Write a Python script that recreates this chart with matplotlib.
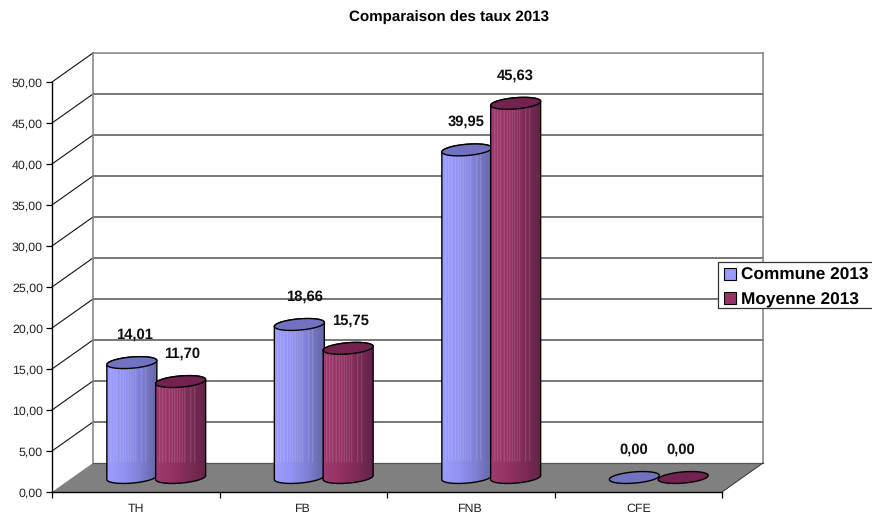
import numpy as np
import matplotlib
matplotlib.use("Agg")
import matplotlib.pyplot as plt
from matplotlib.colors import LinearSegmentedColormap
from matplotlib.patches import Polygon, Patch, Rectangle

plt.rcParams["font.family"] = ["Liberation Sans", "DejaVu Sans"]
plt.rcParams["text.hinting"] = "no_hinting"

categories = ["TH", "FB", "FNB", "CFE"]
commune_2013 = [14.01, 18.66, 39.95, 0.00]
moyenne_2013 = [11.70, 15.75, 45.63, 0.00]
series_names = ["Commune 2013", "Moyenne 2013"]
y_ticks = [0, 5, 10, 15, 20, 25, 30, 35, 40, 45, 50]
title = "Comparaison des taux 2013"

W, H = 872, 512
fig = plt.figure(figsize=(W / 100, H / 100), dpi=100)
ax = fig.add_axes([52 / W, (H - 492) / H, 670 / W, 410 / H])
ax.set_xlim(0, 4)
ax.set_ylim(0, 50)

# pixel-to-data scale of the plot box
PX_X = 4 / 670
PX_Y = 50 / 410
DX, DY = 41 * PX_X, 29 * PX_Y  # depth of the 3D box

# walls and floor
for v in y_ticks[1:-1]:
    ax.plot([0, DX, 4 + DX], [v, v + DY, v + DY], color="#111111", lw=0.8,
            clip_on=False, zorder=1, solid_joinstyle="miter")
ax.plot([0, DX], [50, 50 + DY], color="#111111", lw=0.8, clip_on=False, zorder=1)
ax.plot([DX, 4 + DX], [50 + DY] * 2, color="#808080", lw=1.1, clip_on=False, zorder=1.1)
ax.plot([DX, DX], [DY, 50 + DY], color="#808080", lw=1.1, clip_on=False, zorder=1.1)
ax.plot([4 + DX, 4 + DX], [DY, 50 + DY], color="#808080", lw=1.1, clip_on=False, zorder=1.1)
ax.add_patch(Polygon([(0, 0), (DX, DY), (4 + DX, DY), (4, 0)], closed=True,
                     facecolor="#808080", edgecolor="none", clip_on=False, zorder=2))
ax.plot([DX, 4 + DX], [DY, DY], color="#555555", lw=0.9, clip_on=False, zorder=2.1)
ax.plot([4, 4 + DX], [0, DY], color="#333333", lw=0.7, clip_on=False, zorder=2.1)

# cylinders
HALF_W = 25 * PX_X
ELL_B = 5.6 * PX_Y
TILT = 2.0 * PX_Y / HALF_W
FLOOR_V = 14.5 * PX_Y
PAIR = 24.4 * PX_X
SHIFT = 20.5 * PX_X
stripes = [0.08, 0.14, 0.20, 0.27, 0.33, 0.38, 0.43, 0.48, 0.53, 0.58, 0.70, 0.78]

blue_map = LinearSegmentedColormap.from_list("b", ["#9c9cff", "#9292f2", "#8080d6", "#6666a6"])
red_map = LinearSegmentedColormap.from_list("r", ["#a03a70", "#953264", "#7e2b58", "#642447"])
tops = ["#7272c2", "#74224f"]


def ellipse_arc(cx, v, t):
    x = HALF_W * np.cos(t)
    return cx + x, v + ELL_B * np.sin(t) + TILT * x


def draw_cylinder(cx, value, cmap, top_color, z):
    base = FLOOR_V
    top = base + value
    if value > 0:
        tb = np.linspace(np.pi, 2 * np.pi, 60)
        xb, yb = ellipse_arc(cx, base, tb)
        tt = np.linspace(0, np.pi, 60)
        xt, yt = ellipse_arc(cx, top, tt)
        verts = np.column_stack([np.r_[xb, xt], np.r_[yb, yt]])
        ax.add_patch(Polygon(verts, closed=True, facecolor="none", edgecolor="black",
                             lw=1.0, clip_on=False, zorder=z + 0.2))
        # horizontal shading with thin highlights, plainer where it meets the floor
        u = np.linspace(0, 1, 100)
        rgb = cmap(u)[:, :3]
        rows = 200
        img = np.repeat(rgb[None, :, :], rows, axis=0)
        y0 = base - 8 * PX_Y
        y1 = top + 8 * PX_Y
        yy = np.linspace(y1, y0, rows)
        upper = yy > DY
        for s in stripes:
            c = int(s * 99)
            img[np.ix_(upper, [c])] = img[np.ix_(upper, [c])] * 0.68 + 0.32
        im = ax.imshow(img, extent=[cx - HALF_W, cx + HALF_W, y0, y1], aspect="auto",
                       interpolation="bilinear", zorder=z, clip_on=True)
        im.set_clip_path(Polygon(verts, closed=True, transform=ax.transData))
    t = np.linspace(0, 2 * np.pi, 120)
    x, y = ellipse_arc(cx, top, t)
    ax.add_patch(Polygon(np.column_stack([x, y]), closed=True, facecolor=top_color,
                         edgecolor="black", lw=1.0, clip_on=False, zorder=z + 0.3))


label_shift = {(0, 0): 3, (0, 1): 1, (1, 0): 5, (1, 1): 2, (2, 0): -1, (2, 1): 0, (3, 0): -1, (3, 1): -2}
for i, cat in enumerate(categories):
    center = i + 0.5 + SHIFT
    for j, (vals, cmap) in enumerate(zip((commune_2013, moyenne_2013), (blue_map, red_map))):
        cx = center + (2 * j - 1) * PAIR
        draw_cylinder(cx, vals[i], cmap, tops[j], 3 + j + i * 2)
        ax.annotate(f"{vals[i]:.2f}".replace(".", ","),
                    (cx, FLOOR_V + vals[i]),
                    xytext=(label_shift[(i, j)] * 0.72, 28 * 0.72), textcoords="offset points",
                    ha="center", va="center", fontsize=10.6, fontweight="bold",
                    color="#111111", zorder=20, annotation_clip=False)

ax.set_xlim(0, 4)
ax.set_ylim(0, 50)

# axes, ticks and labels
for s in ("top", "right"):
    ax.spines[s].set_visible(False)
ax.patch.set_visible(False)
for s in ("left", "bottom"):
    ax.spines[s].set_linewidth(1.0)
    ax.spines[s].set_zorder(15)
ax.set_yticks(y_ticks)
ax.set_yticklabels([f"{v:.2f}".replace(".", ",") for v in y_ticks], fontsize=8.9, color="#222222")
ax.tick_params(axis="y", length=4, width=0.9, pad=2.5)
ax.set_xticks(range(5))
ax.set_xticklabels([])
ax.set_xticks(np.arange(4) + 0.5, minor=True)
ax.set_xticklabels(categories, minor=True, fontsize=8.9, color="#222222")
ax.tick_params(axis="x", which="major", length=4, width=0.9)
ax.tick_params(axis="x", which="minor", length=0, pad=8)

fig.text(449 / W, 1 - 17 / H, title, ha="center", va="center",
         fontsize=10.9, fontweight="bold", color="black")

# legend box runs past the right edge of the figure
fig.add_artist(Rectangle((718 / W, 1 - 308 / H), 170 / W, 46 / H, transform=fig.transFigure,
                         facecolor="white", edgecolor="#333333", lw=0.9, zorder=29))
handles = [Patch(facecolor="#9999ff", edgecolor="black", lw=0.8),
           Patch(facecolor="#993366", edgecolor="black", lw=0.8)]
leg = fig.legend(handles, series_names, loc="upper left",
                 bbox_to_anchor=(718 / W, 1 - 308 / H, 170 / W, 46 / H), mode="expand",
                 borderaxespad=0, frameon=False, prop={"size": 12.4, "weight": "bold"},
                 handlelength=0.7, handleheight=0.7, handletextpad=0.3,
                 borderpad=0.33, labelspacing=0.5)
leg.set_zorder(30)

fig.savefig("out.png", dpi=100)
